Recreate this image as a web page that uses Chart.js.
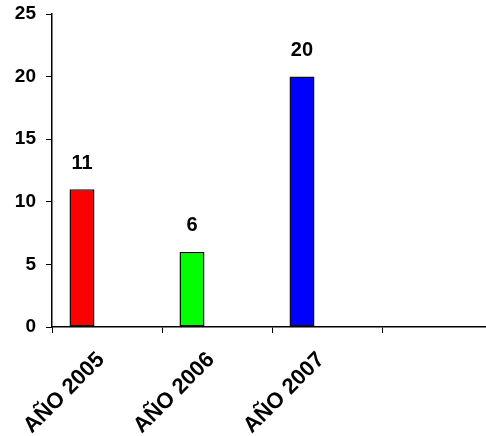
<!DOCTYPE html>
<html>
<head>
<meta charset="utf-8">
<script src="https://cdn.jsdelivr.net/npm/chart.js@4/dist/chart.umd.min.js"></script>
<style>
  html, body { margin: 0; padding: 0; background: #fff; overflow: hidden; }
  #wrap { width: 492px; height: 436px; }
</style>
</head>
<body>
<div id="wrap"><canvas id="c"></canvas></div>
<script>
const categories = ['AÑO 2005', 'AÑO 2006', 'AÑO 2007', ''];
const values = [11, 6, 20, null];
const barColors = ['#ff0000', '#00ff00', '#0000ff', '#ffffff'];
// the source chart keeps room for two more (empty) series in each group
const emptySeries = [null, null, null, null];
const yTicks = [0, 5, 10, 15, 20, 25];

const FONT = '"Liberation Sans", Arial, sans-serif';

const valueLabels = {
  id: 'valueLabels',
  afterDatasetsDraw(chart) {
    const d = chart.ctx;
    const meta = chart.getDatasetMeta(0);
    d.save();
    d.font = 'bold 20px ' + FONT;
    d.fillStyle = '#000';
    d.textAlign = 'center';
    d.textBaseline = 'middle';
    meta.data.forEach((el, i) => {
      if (values[i] == null) return;
      d.fillText(String(values[i]), el.x, el.y - 26);
    });
    d.restore();
  }
};

new Chart(document.getElementById('c'), {
  type: 'bar',
  data: {
    labels: categories,
    datasets: [
      { data: values, backgroundColor: barColors, borderColor: '#111', borderWidth: 1.5, borderSkipped: false },
      { data: emptySeries },
      { data: emptySeries }
    ]
  },
  options: {
    responsive: true,
    maintainAspectRatio: false,
    animation: false,
    categoryPercentage: 0.682,
    barPercentage: 1,
    layout: { padding: { top: 14, left: 0, right: 0, bottom: 0 } },
    plugins: { legend: { display: false }, tooltip: { enabled: false } },
    scales: {
      x: {
        grid: { offset: true, drawOnChartArea: false, color: '#000', tickLength: 6, lineWidth: 1 },
        border: { color: '#000', width: 1.5 },
        ticks: {
          color: '#000', font: { family: FONT, size: 22, weight: 'bold' },
          minRotation: 45, maxRotation: 45, autoSkip: false, padding: 14, labelOffset: -6
        },
        afterFit(s) { s.height = 109; s.paddingLeft = 0; s.paddingRight = 0; }
      },
      y: {
        min: 0, max: 25,
        afterBuildTicks(s) { s.ticks = yTicks.map(v => ({ value: v })); },
        grid: { drawOnChartArea: false, color: '#000', tickLength: 6 },
        border: { color: '#000', width: 1.5 },
        ticks: { color: '#000', font: { family: FONT, size: 19, weight: 'bold' }, padding: 10 },
        afterFit(s) { s.width = 52; s.paddingTop = 0; s.paddingBottom = 0; }
      }
    }
  },
  plugins: [valueLabels]
});
</script>
</body>
</html>
